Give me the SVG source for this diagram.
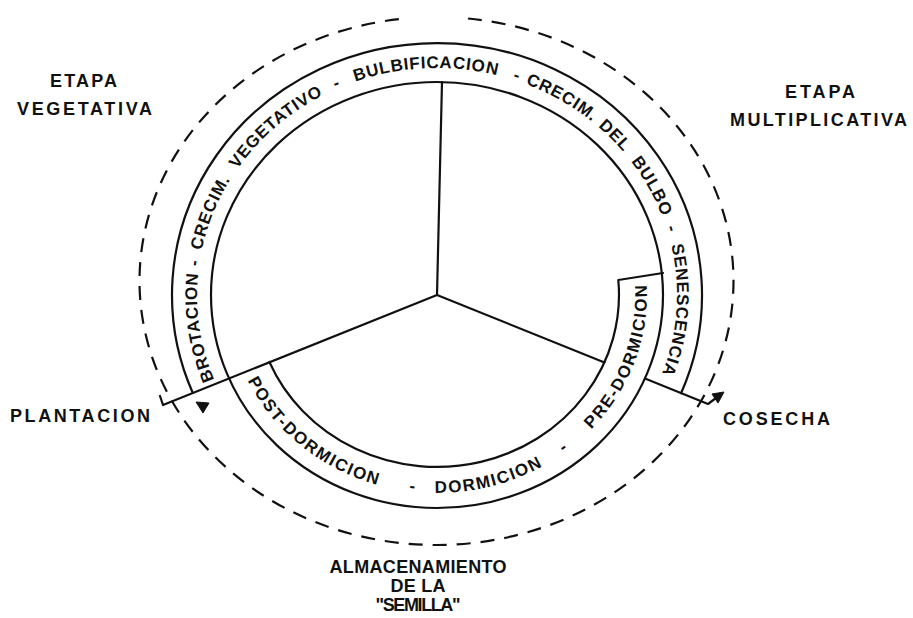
<svg xmlns="http://www.w3.org/2000/svg" width="913" height="618" viewBox="0 0 913 618">
<style>
.ln{fill:none;stroke:#111;stroke-width:2.2;stroke-linecap:round;stroke-linejoin:round}
.dash{fill:none;stroke:#111;stroke-width:2.2;stroke-dasharray:14 10}
.lbl{font-family:"Liberation Sans",Arial,sans-serif;font-weight:bold;font-size:18px;fill:#111;text-anchor:middle}
.arc{font-family:"Liberation Sans",Arial,sans-serif;font-weight:bold;font-size:17px;fill:#111;text-anchor:middle}
.up{letter-spacing:0.8px}
.lo{letter-spacing:1.6px}
.ah{fill:#111;stroke:#111;stroke-width:1}
</style>
<defs>
<path id="pUp" d="M 229.2 408.5 A 240 227 0 0 1 437 68 A 240 227 0 0 1 644.8 408.5"/>
<path id="pLo" d="M 227 295 A 210 198 0 0 0 437 493 A 210 198 0 0 0 647 295 A 210 198 0 0 0 618.9 196"/>
</defs>
<rect width="913" height="618" fill="#fff"/>

<g id="cycle-dashed">
<path class="dash" d="M 468 18.5 A 297 264 0 1 1 405 18.5"/>
</g>

<g id="ring-middle">
<ellipse class="ln" cx="437" cy="295" rx="226" ry="213"/>
</g>

<g id="band-upper">
<path class="ln" d="M 192.7 392.7 A 265 252 0 1 1 681.1 393.2"/>
<text class="arc up"><textPath href="#pUp" startOffset="87">BROTACION</textPath></text>
<text class="arc up"><textPath href="#pUp" startOffset="151">-</textPath></text>
<text class="arc up"><textPath href="#pUp" startOffset="203">CRECIM.</textPath></text>
<text class="arc up"><textPath href="#pUp" startOffset="311">VEGETATIVO</textPath></text>
<text class="arc up"><textPath href="#pUp" startOffset="385">-</textPath></text>
<text class="arc up"><textPath href="#pUp" startOffset="475">BULBIFICACION</textPath></text>
<text class="arc up"><textPath href="#pUp" startOffset="566">-</textPath></text>
<text class="arc up"><textPath href="#pUp" startOffset="615">CRECIM.</textPath></text>
<text class="arc up"><textPath href="#pUp" startOffset="679">DEL</textPath></text>
<text class="arc up"><textPath href="#pUp" startOffset="741">BULBO</textPath></text>
<text class="arc up"><textPath href="#pUp" startOffset="787">-</textPath></text>
<text class="arc up"><textPath href="#pUp" startOffset="868">SENESCENCIA</textPath></text>
</g>

<g id="band-lower">
<path class="ln" d="M 269.4 362 A 182 172 0 0 0 618.3 280 L 663 273"/>
<text class="arc lo"><textPath href="#pLo" startOffset="175">POST-DORMICION</textPath></text>
<text class="arc lo"><textPath href="#pLo" startOffset="296">-</textPath></text>
<text class="arc lo"><textPath href="#pLo" startOffset="375">DORMICION</textPath></text>
<text class="arc lo"><textPath href="#pLo" startOffset="459">-</textPath></text>
<text class="arc lo"><textPath href="#pLo" startOffset="572">PRE-DORMICION</textPath></text>
</g>

<g id="connectors">
<path class="ln" d="M 437 295 L 442 82"/>
<path class="ln" d="M 437 295 L 163 405 L 160 396"/>
<path class="ln" d="M 437 295 L 604.5 362.4"/>
<path class="ln" d="M 645 378.6 L 708 404 L 716 398"/>
<path class="ah" d="M 196 402 L 209 403 L 203 413 Z"/>
<path class="ah" d="M 724 392 L 712 394 L 718 403 Z"/>
</g>

<g id="label-vegetativa">
<text class="lbl" x="83.5" y="87" textLength="67" lengthAdjust="spacing">ETAPA</text>
<text class="lbl" x="84.5" y="115" textLength="135" lengthAdjust="spacing">VEGETATIVA</text>
</g>
<g id="label-multiplicativa">
<text class="lbl" x="820" y="98" textLength="70" lengthAdjust="spacing">ETAPA</text>
<text class="lbl" x="818.5" y="126" textLength="177" lengthAdjust="spacing">MULTIPLICATIVA</text>
</g>
<g id="label-plantacion">
<text class="lbl" x="80" y="422" textLength="140" lengthAdjust="spacing">PLANTACION</text>
</g>
<g id="label-cosecha">
<text class="lbl" x="776.5" y="425" textLength="107" lengthAdjust="spacing">COSECHA</text>
</g>
<g id="label-almacenamiento">
<text class="lbl" x="418" y="573" textLength="177" lengthAdjust="spacing">ALMACENAMIENTO</text>
<text class="lbl" x="418" y="592" textLength="55" lengthAdjust="spacing">DE LA</text>
<text class="lbl" x="418" y="611" textLength="85" lengthAdjust="spacing">"SEMILLA"</text>
</g>
</svg>
